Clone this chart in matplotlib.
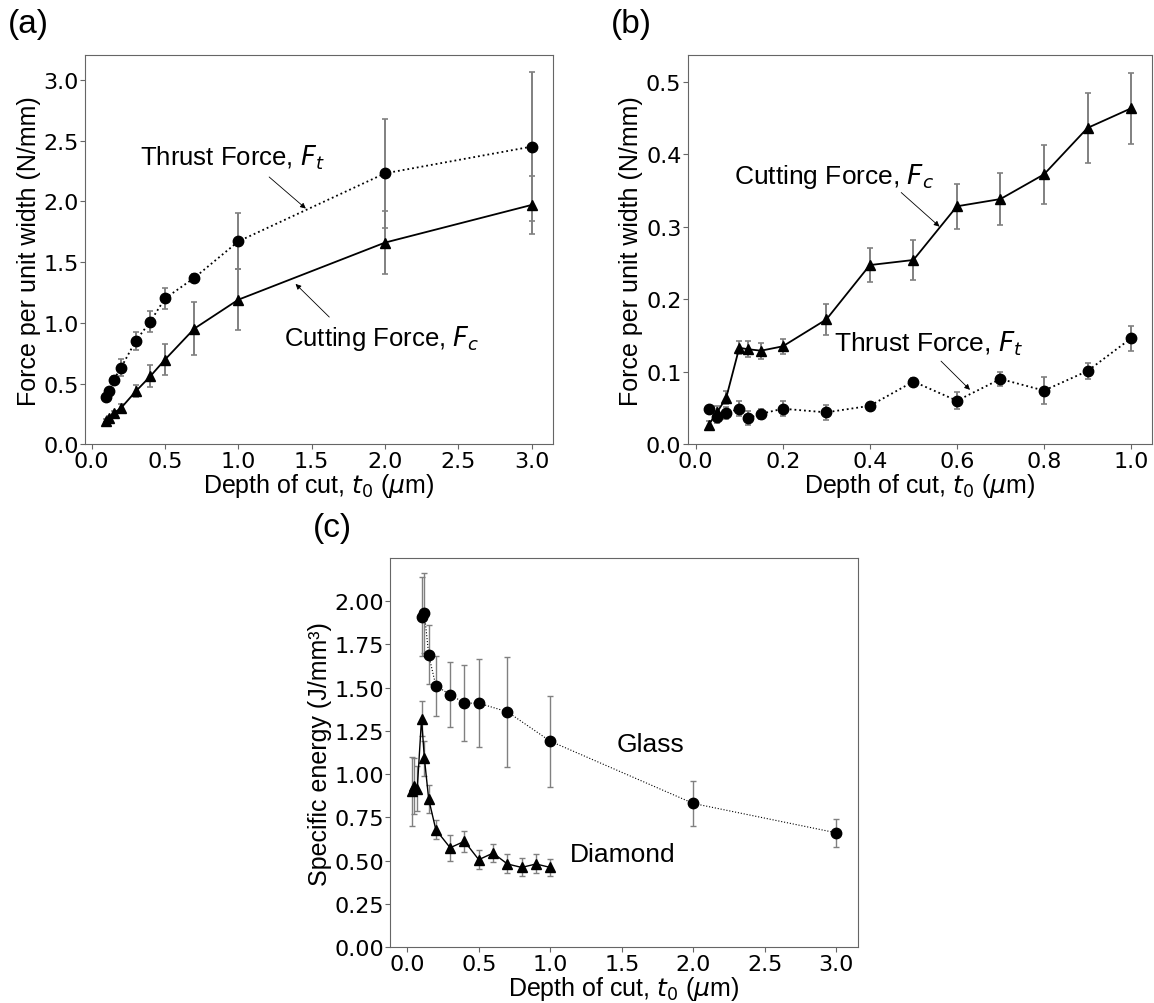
import matplotlib
matplotlib.use("Agg")
import matplotlib.pyplot as plt
from matplotlib.ticker import MultipleLocator, FormatStrFormatter

# depth of cut values (um)
x_glass = [0.1, 0.12, 0.15, 0.2, 0.3, 0.4, 0.5, 0.7, 1.0, 2.0, 3.0]
x_diamond = [0.03, 0.05, 0.07, 0.1, 0.12, 0.15, 0.2, 0.3, 0.4, 0.5, 0.6, 0.7, 0.8, 0.9, 1.0]

# (a) glass forces, N/mm
a_thrust = [0.39, 0.44, 0.53, 0.63, 0.85, 1.01, 1.20, 1.37, 1.67, 2.23, 2.45]
a_thrust_err = [0.02, 0.02, 0.03, 0.07, 0.07, 0.09, 0.09, 0.03, 0.23, 0.45, 0.61]
a_cutting = [0.195, 0.218, 0.256, 0.298, 0.435, 0.56, 0.697, 0.952, 1.19, 1.66, 1.97]
a_cutting_err = [0.01, 0.015, 0.02, 0.03, 0.05, 0.09, 0.125, 0.22, 0.25, 0.26, 0.24]

# (b) diamond forces, N/mm
b_cutting = [0.027, 0.045, 0.064, 0.133, 0.131, 0.129, 0.135, 0.172, 0.247, 0.254,
             0.328, 0.338, 0.372, 0.436, 0.463]
b_cutting_err = [0.005, 0.008, 0.009, 0.009, 0.011, 0.011, 0.01, 0.022, 0.024, 0.027,
                 0.031, 0.036, 0.041, 0.048, 0.049]
b_thrust = [0.049, 0.038, 0.043, 0.049, 0.036, 0.042, 0.049, 0.044, 0.053, 0.0865,
            0.060, 0.090, 0.074, 0.101, 0.146]
b_thrust_err = [0.004, 0.008, 0.008, 0.01, 0.01, 0.007, 0.01, 0.01, 0.004, 0.005,
                0.0115, 0.009, 0.019, 0.011, 0.017]

# (c) specific energy, J/mm^3
c_glass = [1.91, 1.93, 1.69, 1.51, 1.46, 1.41, 1.41, 1.36, 1.19, 0.83, 0.66]
c_glass_err = [0.23, 0.23, 0.17, 0.175, 0.187, 0.22, 0.255, 0.317, 0.263, 0.128, 0.081]
c_diamond = [0.90, 0.93, 0.915, 1.32, 1.09, 0.855, 0.678, 0.574, 0.611, 0.505,
             0.543, 0.48, 0.46, 0.48, 0.46]
c_diamond_err = [0.2, 0.16, 0.13, 0.1, 0.1, 0.08, 0.055, 0.074, 0.062, 0.055,
                 0.052, 0.055, 0.052, 0.055, 0.05]

plt.rcParams["font.family"] = "DejaVu Sans"
plt.rcParams["mathtext.fontset"] = "dejavusans"

ARIAL = "Liberation Sans"
XLABEL = r"Depth of cut, $t_0$ ($\mu$m)"
SPINE = "0.4"
LABEL_SIZE = 18
TICK_SIZE = 16

fig = plt.figure(figsize=(11.54, 10.04), dpi=100)
ax_a = fig.add_axes([0.0737, 0.5565, 0.4055, 0.3877])
ax_b = fig.add_axes([0.5959, 0.5565, 0.4025, 0.3877])
ax_c = fig.add_axes([0.3382, 0.0558, 0.4050, 0.3871])


def style(ax, xstep, ystep, yfmt):
    for s in ax.spines.values():
        s.set_color(SPINE)
    ax.xaxis.set_major_locator(MultipleLocator(xstep))
    ax.yaxis.set_major_locator(MultipleLocator(ystep))
    ax.xaxis.set_major_formatter(FormatStrFormatter("%.1f"))
    ax.yaxis.set_major_formatter(FormatStrFormatter(yfmt))
    ax.tick_params(colors=SPINE, labelcolor="black", labelsize=TICK_SIZE)
    ax.tick_params(axis="y", pad=1)
    ax.tick_params(axis="x", pad=1.5)


def arrow(ax, tail, head):
    ax.annotate("", xy=head, xytext=tail,
                arrowprops=dict(arrowstyle="-|>", color="black", lw=0.6,
                                mutation_scale=8, shrinkA=0, shrinkB=0))


ebar = dict(ecolor="gray", elinewidth=1.4, capsize=2.2, capthick=1.2,
            color="black", markersize=7.5)

# ---- (a)
ax_a.errorbar(x_glass, a_thrust, yerr=a_thrust_err, fmt="o:", lw=1.3, **ebar)
ax_a.errorbar(x_glass, a_cutting, yerr=a_cutting_err, fmt="^-", lw=1.3, **ebar)
ax_a.set_ylim(bottom=0)
ax_a.set_xlabel(XLABEL, family=ARIAL, fontsize=LABEL_SIZE, labelpad=0)
ax_a.set_ylabel("Force per unit width (N/mm)", family=ARIAL, fontsize=LABEL_SIZE,
                labelpad=2)
ax_a.text(0.333, 2.30, r"Thrust Force, $F_t$", family=ARIAL, fontsize=18.5)
arrow(ax_a, (1.21, 2.20), (1.46, 1.94))
ax_a.text(1.31, 0.82, r"Cutting Force, $F_c$", family=ARIAL, fontsize=18.5)
arrow(ax_a, (1.62, 1.047), (1.39, 1.32))
style(ax_a, 0.5, 0.5, "%.1f")

# ---- (b)
ax_b.errorbar(x_diamond, b_cutting, yerr=b_cutting_err, fmt="^-", lw=1.3, **ebar)
ax_b.errorbar(x_diamond, b_thrust, yerr=b_thrust_err, fmt="o:", lw=1.3, **ebar)
ax_b.set_ylim(bottom=0)
ax_b.set_xlabel(XLABEL, family=ARIAL, fontsize=LABEL_SIZE, labelpad=0)
ax_b.set_ylabel("Force per unit width (N/mm)", family=ARIAL, fontsize=LABEL_SIZE,
                labelpad=2)
ax_b.text(0.087, 0.36, r"Cutting Force, $F_c$", family=ARIAL, fontsize=19)
arrow(ax_b, (0.472, 0.347), (0.56, 0.30))
ax_b.text(0.317, 0.129, r"Thrust Force, $F_t$", family=ARIAL, fontsize=19)
arrow(ax_b, (0.5635, 0.1146), (0.63, 0.075))
style(ax_b, 0.2, 0.1, "%.1f")

# ---- (c)
ebar_c = dict(ebar, elinewidth=1.0, capthick=1.0)
ax_c.errorbar(x_glass, c_glass, yerr=c_glass_err, fmt="o:", lw=0.8, **ebar_c)
ax_c.errorbar(x_diamond, c_diamond, yerr=c_diamond_err, fmt="^-", lw=1.0, **ebar_c)
ax_c.set_ylim(bottom=0)
ax_c.set_xlabel(XLABEL, family=ARIAL, fontsize=LABEL_SIZE, labelpad=0)
ax_c.set_ylabel("Specific energy (J/mm³)", family=ARIAL, fontsize=LABEL_SIZE,
                labelpad=2)
ax_c.text(1.467, 1.135, "Glass", family=ARIAL, fontsize=19)
ax_c.text(1.139, 0.495, "Diamond", family=ARIAL, fontsize=19)
style(ax_c, 0.5, 0.25, "%.2f")

# panel letters
fig.text(8 / 1154, 1 - 25 / 1004, "(a)", family=ARIAL, fontsize=24, va="center")
fig.text(611 / 1154, 1 - 25 / 1004, "(b)", family=ARIAL, fontsize=24, va="center")
fig.text(313 / 1154, 1 - 528 / 1004, "(c)", family=ARIAL, fontsize=24, va="center")

fig.savefig("out.png", dpi=100)
